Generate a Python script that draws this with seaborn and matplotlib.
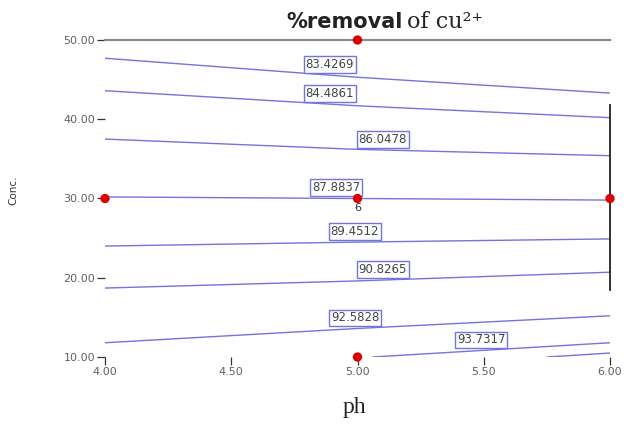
import numpy as np
import pandas as pd
import matplotlib
matplotlib.use("Agg")
import matplotlib.pyplot as plt
import seaborn as sns

# Axis ticks
ph_ticks = [4.00, 4.50, 5.00, 5.50, 6.00]
conc_ticks = [10.00, 20.00, 30.00, 40.00, 50.00]

# Contour levels of % removal and the traced contour paths (ph, conc)
levels = [83.4269, 84.4861, 86.0478, 87.8837, 89.4512, 90.8265, 92.5828, 93.7317, None]
contour_ph = [
    [4.00, 5.00, 6.00],
    [4.00, 5.00, 6.00],
    [4.00, 5.00, 6.00],
    [4.00, 5.00, 6.00],
    [4.00, 5.00, 6.00],
    [4.00, 5.00, 6.00],
    [4.00, 5.00, 6.00],
    [5.06, 6.00],
    [5.75, 6.00],
]
contour_conc = [
    [47.7, 45.3, 43.3],
    [43.6, 41.7, 40.2],
    [37.5, 36.2, 35.4],
    [30.2, 30.0, 29.8],
    [24.0, 24.5, 24.9],
    [18.7, 19.6, 20.7],
    [11.8, 13.6, 15.2],
    [10.0, 11.8],
    [10.0, 10.5],
]
# ph where each contour label sits
label_ph = [4.89, 4.89, 5.10, 4.915, 4.99, 5.10, 4.99, 5.49, None]

# Design points
design_ph = [5.00, 4.00, 5.00, 6.00, 5.00]
design_conc = [50.00, 30.00, 30.00, 30.00, 10.00]
center_runs = 6

rows = []
for i, (xs, ys) in enumerate(zip(contour_ph, contour_conc)):
    for x, y in zip(xs, ys):
        rows.append({"line": i, "ph": x, "conc": y})
contours = pd.DataFrame(rows)
points = pd.DataFrame({"ph": design_ph, "conc": design_conc})

sns.set_theme(style="white")
plt.rcParams["font.family"] = ["DejaVu Sans"]

fig = plt.figure(figsize=(6.3, 4.32), dpi=100)
ax = fig.add_axes([105 / 630, 1 - 357 / 432, 505 / 630, 317 / 432])

line_color = "#7474dc"
sns.lineplot(data=contours, x="ph", y="conc", units="line", estimator=None,
             sort=False, color=line_color, linewidth=1.0, ax=ax, legend=False)

for lvl, lx, xs, ys in zip(levels, label_ph, contour_ph, contour_conc):
    if lvl is None:
        continue
    ly = np.interp(lx, xs, ys)
    ax.annotate(f"{lvl:.4f}", xy=(lx, ly), xytext=(0, 3), textcoords="offset points",
                ha="center", va="bottom", fontsize=8.5, color="#444444",
                bbox=dict(boxstyle="square,pad=0.15", fc="white", ec=line_color, lw=1.0),
                zorder=4)

sns.scatterplot(data=points, x="ph", y="conc", color="#dd0000", s=45,
                edgecolor="none", ax=ax, zorder=5, clip_on=False)
ax.annotate(str(center_runs), xy=(design_ph[2], design_conc[2]), xytext=(0, -7),
            textcoords="offset points", ha="center", va="center",
            fontsize=8, color="#333333", zorder=6)

ax.set_xlim(4.0, 6.0)
ax.set_ylim(10.0, 50.0)
ax.set_xticks(ph_ticks)
ax.set_xticklabels([f"{t:.2f}" for t in ph_ticks])
ax.set_yticks(conc_ticks)
ax.set_yticklabels([f"{t:.2f}" for t in conc_ticks])
ax.tick_params(axis="both", direction="out", length=6, width=0.9, color="#333333",
               labelsize=8, labelcolor="#606060", pad=1,
               bottom=True, left=True)

for side in ("left", "bottom"):
    ax.spines[side].set_visible(False)
ax.spines["top"].set_color("#888888")
ax.spines["top"].set_linewidth(1.5)
ax.spines["right"].set_color("#222222")
ax.spines["right"].set_linewidth(1.3)
ax.spines["right"].set_bounds(18.5, 41.8)

ax.set_xlabel("")
ax.set_ylabel("")
fig.text(13 / 630, 1 - 190 / 432, "Conc.", rotation=90, ha="center", va="center",
         fontsize=7.5, color="#333333")
fig.text(354 / 630, 1 - 408 / 432, "ph", ha="center", va="center",
         fontsize=17, family="Liberation Serif", color="#222222")

fig.text(403 / 630, 1 - 22 / 432, "%removal", ha="right", va="center",
         fontsize=15, fontweight="semibold", color="#222222")
fig.text(407 / 630, 1 - 22 / 432, "of cu²⁺", ha="left", va="center",
         fontsize=16, family="DejaVu Serif", color="#222222")

fig.savefig("out.png", dpi=100)
